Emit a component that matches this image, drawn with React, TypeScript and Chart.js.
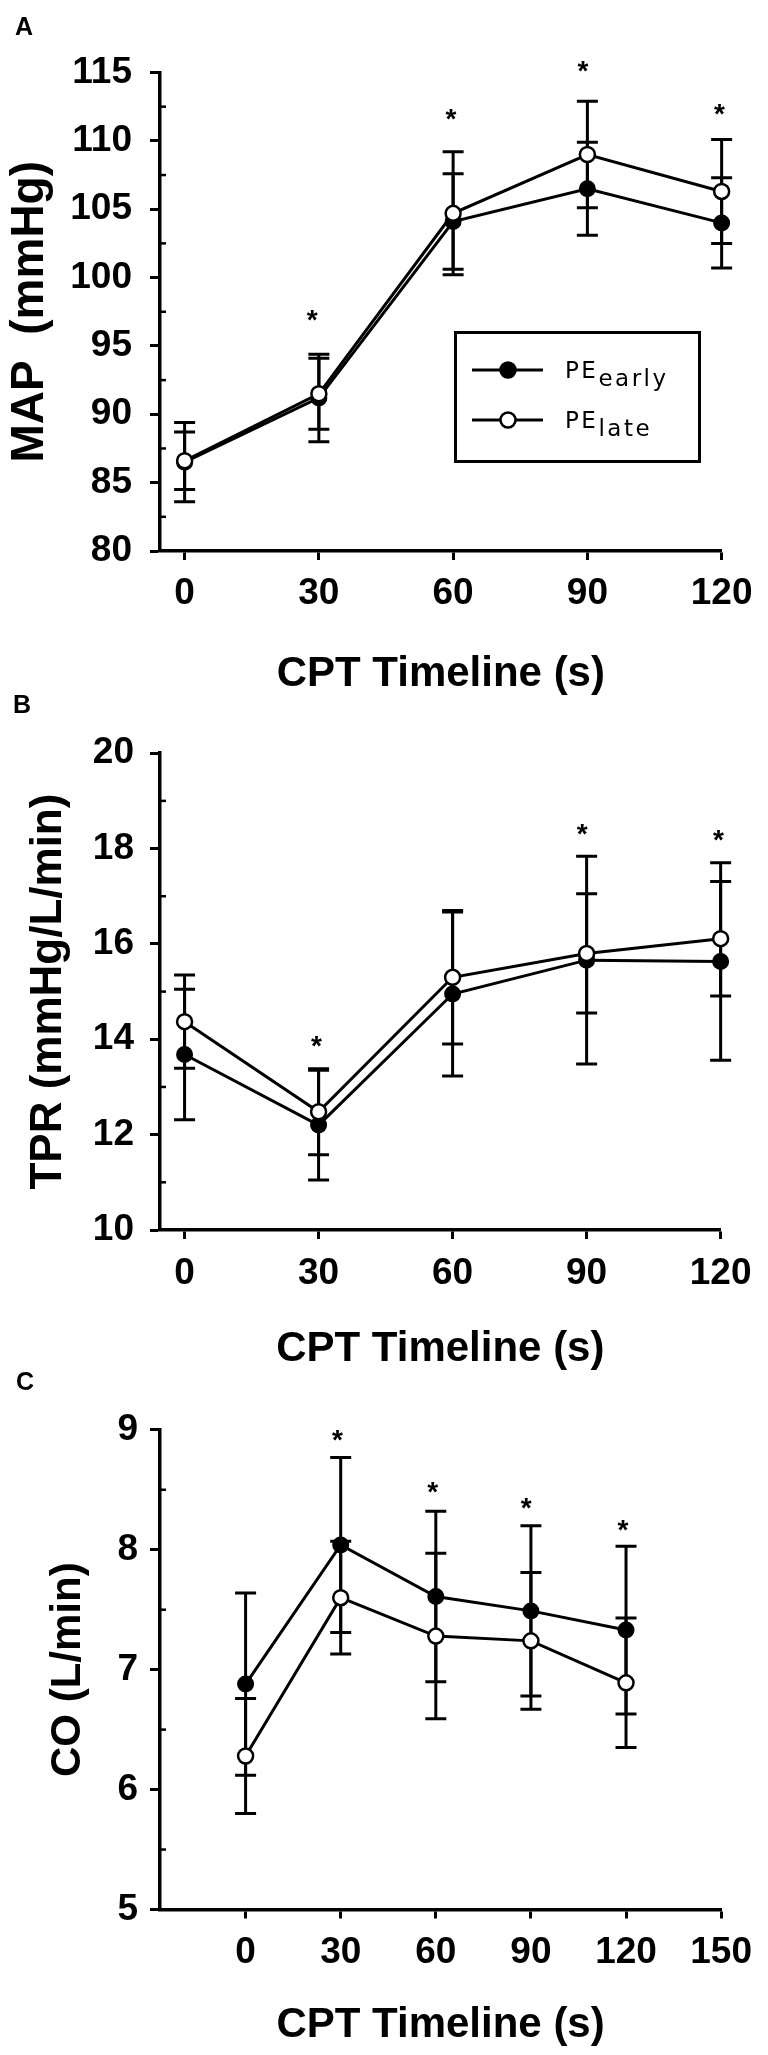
import React, { useEffect, useRef } from "react";
import { Chart, registerables } from "chart.js";

Chart.register(...registerables);

const FONT = '"Liberation Sans", Arial, Helvetica, sans-serif';
const LEGEND_FONT = '"DejaVu Sans", Verdana, sans-serif';

// ---------- shared ----------
const times = [0, 30, 60, 90, 120];
const xTicksAB = [0, 30, 60, 90, 120];
const xTicksC = [0, 30, 60, 90, 120, 150];
const seriesNames = ["PE", "PE"];
const seriesSubs = ["early", "late"];
const xTitle = "CPT Timeline (s)";

// ---------- Panel A: MAP ----------
const mapEarly = [86.5, 91.2, 104.1, 106.5, 104.0];
const mapEarlySD = [2.9, 3.2, 3.5, 3.4, 3.3];
const mapLate = [86.6, 91.5, 104.7, 109.0, 106.3];
const mapLateSD = [2.1, 2.6, 4.5, 3.9, 3.8];
const mapStarX = [28.5, 59.5, 89, 119.5];
const mapStarY = [97.4, 112.1, 115.6, 112.5];
const mapYTicks = [80, 85, 90, 95, 100, 105, 110, 115];
const mapYMinor = [82.5, 87.5, 92.5, 97.5, 102.5, 107.5, 112.5];

// ---------- Panel B: TPR ----------
const tprEarly = [13.68, 12.2, 14.95, 15.66, 15.63];
const tprEarlySD = [1.37, 1.15, 1.72, 2.18, 2.07];
const tprLate = [14.37, 12.48, 15.3, 15.8, 16.11];
const tprLateSD = [0.98, 0.9, 1.4, 1.25, 1.2];
const tprStarX = [29.5, 89, 119.5];
const tprStarY = [14.0, 18.45, 18.32];
const tprYTicks = [10, 12, 14, 16, 18, 20];
const tprYMinor = [11, 13, 15, 17, 19];

// ---------- Panel C: CO ----------
const coEarly = [6.88, 8.04, 7.61, 7.49, 7.33];
const coEarlySD = [0.76, 0.73, 0.71, 0.71, 0.7];
const coLate = [6.28, 7.6, 7.28, 7.24, 6.89];
const coLateSD = [0.48, 0.47, 0.69, 0.57, 0.54];
const coStarX = [29, 59, 88.5, 119];
const coStarY = [8.97, 8.54, 8.41, 8.22];
const coYTicks = [5, 6, 7, 8, 9];
const coYMinor = [5.5, 6.5, 7.5, 8.5];

type Spec = {
  top: number;
  height: number;
  padTop: number;
  padRight: number;
  xHeight: number;
  xMin: number;
  xMax: number;
  xTicks: number[];
  yMin: number;
  yMax: number;
  yTicks: number[];
  yMinor: number[];
  yTitle: string;
  yTitleSize: number;
  yTitlePad: number;
  yTickPad: number;
  xTickPad: number;
  xTitlePad: number;
  early: number[];
  earlySD: number[];
  late: number[];
  lateSD: number[];
  starX: number[];
  starY: number[];
  legend: boolean;
};

const specs: Spec[] = [
  {
    top: 0, height: 700, padTop: 72.5, padRight: 32, xHeight: 149,
    xMin: -5.5, xMax: 120, xTicks: xTicksAB,
    yMin: 80, yMax: 115, yTicks: mapYTicks, yMinor: mapYMinor,
    yTitle: "MAP  (mmHg)", yTitleSize: 46, yTitlePad: 7, yTickPad: 18,
    xTickPad: 15.5, xTitlePad: 4.5,
    early: mapEarly, earlySD: mapEarlySD, late: mapLate, lateSD: mapLateSD,
    starX: mapStarX, starY: mapStarY, legend: true,
  },
  {
    top: 700, height: 680, padTop: 53.2, padRight: 31, xHeight: 150,
    xMin: -5.5, xMax: 120, xTicks: xTicksAB,
    yMin: 10, yMax: 20, yTicks: tprYTicks, yMinor: tprYMinor,
    yTitle: "TPR (mmHg/L/min)", yTitleSize: 44, yTitlePad: 27, yTickPad: 16,
    xTickPad: 16.5, xTitlePad: 10,
    early: tprEarly, earlySD: tprEarlySD, late: tprLate, lateSD: tprLateSD,
    starX: tprStarX, starY: tprStarY, legend: false,
  },
  {
    top: 1380, height: 675, padTop: 49.8, padRight: 31, xHeight: 145.5,
    xMin: -27, xMax: 150, xTicks: xTicksC,
    yMin: 5, yMax: 9, yTicks: coYTicks, yMinor: coYMinor,
    yTitle: "CO (L/min)", yTitleSize: 42, yTitlePad: 47, yTickPad: 12,
    xTickPad: 16, xTitlePad: 8.5,
    early: coEarly, earlySD: coEarlySD, late: coLate, lateSD: coLateSD,
    starX: coStarX, starY: coStarY, legend: false,
  },
];

function Panel({ spec }: { spec: Spec }) {
  const ref = useRef<HTMLCanvasElement | null>(null);

  useEffect(() => {
    if (!ref.current) return;
    const s = spec;
    const sds = [s.earlySD, s.lateSD];

    const errorBars = {
      id: "errorBars",
      beforeDatasetsDraw(chart: any) {
        const { ctx } = chart;
        const xs = chart.scales.x;
        const ys = chart.scales.y;
        ctx.save();
        ctx.strokeStyle = "#000";
        ctx.lineWidth = 3;
        chart.data.datasets.forEach((ds: any, di: number) => {
          const sd = sds[di];
          ds.data.forEach((p: any, i: number) => {
            const px = xs.getPixelForValue(p.x);
            const yt = ys.getPixelForValue(p.y + sd[i]);
            const yb = ys.getPixelForValue(p.y - sd[i]);
            ctx.beginPath();
            ctx.moveTo(px, yt);
            ctx.lineTo(px, yb);
            ctx.moveTo(px - 10.5, yt);
            ctx.lineTo(px + 10.5, yt);
            ctx.moveTo(px - 10.5, yb);
            ctx.lineTo(px + 10.5, yb);
            ctx.stroke();
          });
        });
        ctx.restore();
      },
    };

    const extras = {
      id: "extras",
      afterDraw(chart: any) {
        const { ctx, chartArea } = chart;
        const xs = chart.scales.x;
        const ys = chart.scales.y;
        ctx.save();
        // minor ticks on y axis
        ctx.strokeStyle = "#000";
        ctx.lineWidth = 2.5;
        s.yMinor.forEach((v) => {
          const py = ys.getPixelForValue(v);
          ctx.beginPath();
          ctx.moveTo(chartArea.left, py);
          ctx.lineTo(chartArea.left + 6, py);
          ctx.stroke();
        });
        // significance asterisks
        ctx.fillStyle = "#000";
        ctx.font = `bold 28px ${FONT}`;
        ctx.textAlign = "center";
        ctx.textBaseline = "alphabetic";
        s.starX.forEach((xv, i) => {
          const px = xs.getPixelForValue(xv);
          const py = ys.getPixelForValue(s.starY[i]);
          ctx.fillText("*", px, py + 16);
        });
        // legend
        if (s.legend) {
          ctx.strokeStyle = "#000";
          ctx.lineWidth = 3;
          ctx.strokeRect(455.5, 332.5, 244, 129);
          const rows = [370, 420];
          rows.forEach((ry, i) => {
            ctx.lineWidth = 3;
            ctx.beginPath();
            ctx.moveTo(472, ry);
            ctx.lineTo(543, ry);
            ctx.stroke();
            ctx.beginPath();
            ctx.arc(508, ry, 7.5, 0, Math.PI * 2);
            ctx.fillStyle = i === 0 ? "#000" : "#fff";
            ctx.fill();
            ctx.lineWidth = 2.5;
            ctx.stroke();
            ctx.fillStyle = "#000";
            ctx.font = `23px ${LEGEND_FONT}`;
            (ctx as any).letterSpacing = "2.5px";
            ctx.textAlign = "left";
            ctx.textBaseline = "alphabetic";
            ctx.fillText(seriesNames[i], 565, ry + 8);
            const w = ctx.measureText(seriesNames[i]).width;
            ctx.fillText(seriesSubs[i], 565 + w, ry + 16);
            (ctx as any).letterSpacing = "0px";
          });
        }
        ctx.restore();
      },
    };

    const tickFont = { family: FONT, size: 37, weight: "bold" as const, lineHeight: 1 };

    const chart = new Chart(ref.current, {
      type: "line",
      data: {
        datasets: [
          {
            label: "PEearly",
            data: times.map((t, i) => ({ x: t, y: s.early[i] })),
            borderColor: "#000",
            borderWidth: 3,
            pointRadius: 7.5,
            pointBackgroundColor: "#000",
            pointBorderColor: "#000",
            pointBorderWidth: 2,
            tension: 0,
            clip: false as any,
            order: 1,
          },
          {
            label: "PElate",
            data: times.map((t, i) => ({ x: t, y: s.late[i] })),
            borderColor: "#000",
            borderWidth: 3,
            pointRadius: 7.5,
            pointBackgroundColor: "#fff",
            pointBorderColor: "#000",
            pointBorderWidth: 2.5,
            tension: 0,
            clip: false as any,
            order: 0,
          },
        ],
      },
      options: {
        animation: false,
        responsive: false,
        events: [],
        layout: { padding: { top: s.padTop, right: s.padRight, bottom: 0, left: 0 } },
        plugins: { legend: { display: false }, tooltip: { enabled: false } },
        scales: {
          x: {
            type: "linear",
            min: s.xMin,
            max: s.xMax,
            afterBuildTicks: (sc: any) => {
              sc.ticks = s.xTicks.map((v) => ({ value: v }));
            },
            afterFit: (sc: any) => {
              sc.height = s.xHeight;
            },
            grid: {
              display: true,
              drawOnChartArea: false,
              drawTicks: true,
              tickLength: 9,
              tickWidth: 3,
              tickColor: "#000",
            },
            border: { display: true, color: "#000", width: 3.5 },
            ticks: {
              color: "#000",
              font: tickFont,
              padding: s.xTickPad,
              autoSkip: false,
              maxRotation: 0,
            },
            title: {
              display: true,
              text: xTitle,
              color: "#000",
              font: { family: FONT, size: 42, weight: "bold", lineHeight: 1 },
              padding: { top: 0, bottom: s.xTitlePad },
            },
          },
          y: {
            type: "linear",
            min: s.yMin,
            max: s.yMax,
            afterBuildTicks: (sc: any) => {
              sc.ticks = s.yTicks.map((v) => ({ value: v }));
            },
            afterFit: (sc: any) => {
              sc.width = 160;
            },
            grid: {
              display: true,
              drawOnChartArea: false,
              drawTicks: true,
              tickLength: 10,
              tickWidth: 3,
              tickColor: "#000",
            },
            border: { display: true, color: "#000", width: 3.5 },
            ticks: {
              color: "#000",
              font: tickFont,
              padding: s.yTickPad,
              autoSkip: false,
            },
            title: {
              display: true,
              text: s.yTitle,
              color: "#000",
              font: { family: FONT, size: s.yTitleSize, weight: "bold", lineHeight: 1 },
              padding: { top: s.yTitlePad, bottom: 0 },
            },
          },
        },
      },
      plugins: [errorBars, extras],
    } as any);

    return () => chart.destroy();
  }, [spec]);

  return (
    <canvas
      ref={ref}
      width={768}
      height={spec.height}
      style={{ position: "absolute", left: 0, top: spec.top, width: 768, height: spec.height }}
    />
  );
}

const letters = [
  { t: "A", left: 15, top: 13.7 },
  { t: "B", left: 13, top: 691.7 },
  { t: "C", left: 16, top: 1368.7 },
];

export default function App() {
  return (
    <div
      style={{
        position: "absolute",
        left: 0,
        top: 0,
        width: 768,
        height: 2055,
        background: "#fff",
        overflow: "hidden",
      }}
    >
      {specs.map((s, i) => (
        <Panel key={i} spec={s} />
      ))}
      {letters.map((l) => (
        <div
          key={l.t}
          style={{
            position: "absolute",
            left: l.left,
            top: l.top,
            fontFamily: FONT,
            fontWeight: "bold",
            fontSize: 25,
            lineHeight: "25px",
            color: "#000",
          }}
        >
          {l.t}
        </div>
      ))}
    </div>
  );
}
